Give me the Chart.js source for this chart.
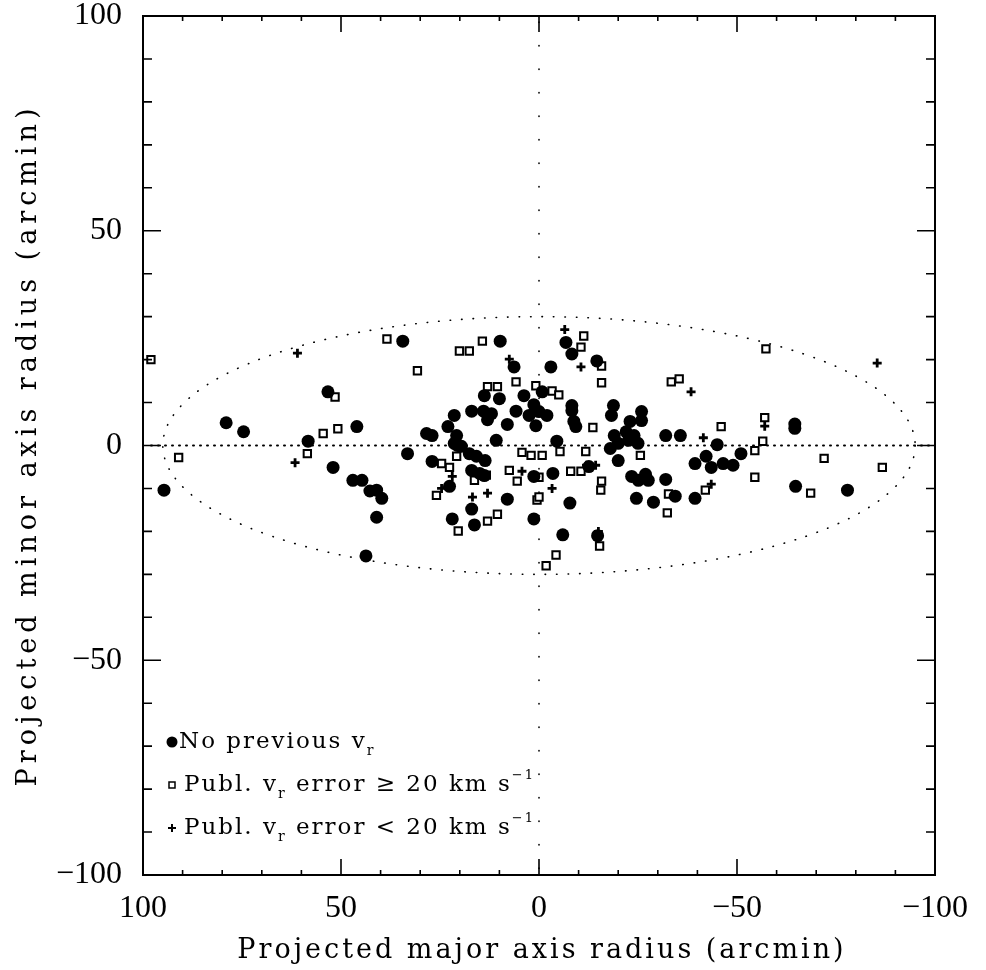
<!DOCTYPE html>
<html>
<head>
<meta charset="utf-8">
<script src="https://cdn.jsdelivr.net/npm/chart.js@4.4.0/dist/chart.umd.min.js"></script>
<style>
  html, body { margin: 0; padding: 0; background: #fff; }
  #wrap { width: 986px; height: 970px; }
</style>
</head>
<body>
<div id="wrap"><canvas id="chart" width="986" height="970"></canvas></div>
<script>
// values, [major axis radius, minor axis radius] in arcmin
const noPreviousPts = [
  [53.3, 12.5], [79, 5.3], [74.6, 3.2], [58.3, 1], [52, -5.1], [94.7, -10.4],
  [34.4, 24.3], [9.8, 24.3], [6.3, 18.3], [13.8, 11.6], [10, 10.9], [3.8, 11.6],
  [17, 8], [14, 8], [12, 7.4], [13, 6], [5.8, 8], [1.3, 9.5], [2.5, 7], [21.4, 7],
  [23, 4.4], [8, 4.9], [46, 4.4], [28.4, 2.8], [27, 2.3], [20.8, 2.3], [10.8, 1.2],
  [20.6, 0], [0.8, 4.6], [-6.8, 24], [-8.3, 21.3], [-3, 18.3], [-14.6, 19.7],
  [-0.8, 12.5], [-8.3, 9.3], [-8.3, 8.1], [0, 7.9], [-2, 7], [-8.8, 5.6], [-9.3, 4.4],
  [-18.8, 9.3], [-18.3, 7], [-25.9, 7.9], [-25.9, 5.8], [-23, 5.6], [-19, 2.3],
  [-22, 3.2], [-24, 2.3], [-20, 0.5], [-25, 0.5], [-32, 2.3], [-35.7, 2.3], [-45, 0.2],
  [-4.5, 1], [-64.6, 5], [-64.6, 4], [33.2, -1.9], [27, -3.7], [21.4, 0.5], [19.6, -0.2],
  [17.6, -1.9], [15.8, -2.5], [13.6, -3.5], [17, -5.8], [15, -6.5], [13.8, -7],
  [22.6, -9.5], [47, -8.1], [44.7, -8.1], [42.7, -10.6], [41, -10.4], [39.7, -12.3],
  [41, -16.7], [8, -12.5], [17, -14.8], [21.9, -17.1], [16.3, -18.5], [1.3, -17.1],
  [43.7, -25.7], [1.3, -7.2], [-18, -0.7], [-22.6, 1.2], [-20, -3.5], [-12.6, -4.9],
  [-3.5, -6.5], [-7.8, -13.4], [-23.4, -7.2], [-26.9, -6.7], [-25.1, -8.1], [-27.6, -8.1],
  [-32, -7.9], [-24.6, -12.3], [-28.9, -13.2], [-34.4, -11.8], [-39.4, -12.3],
  [-39.4, -4.2], [-42.2, -2.5], [-43.5, -5.1], [-46.5, -4.2], [-49, -4.6], [-6, -20.8],
  [-14.8, -21], [-51, -1.9], [-64.8, -9.5], [-77.9, -10.4]
];
const bigErrorPts = [
  [98, 20], [51.5, 11.3], [54.5, 2.8], [50.8, 3.9], [58.5, -1.9], [91, -2.8],
  [38.4, 24.8], [20.1, 22], [17.6, 22], [14.3, 24.3], [30.7, 17.4], [5.8, 14.8],
  [0.8, 13.9], [13, 13.7], [10.5, 13.7], [-11.3, 25.5], [-10.6, 22.9], [-15.8, 18.5],
  [-15.8, 14.6], [-33.4, 14.8], [-35.4, 15.5], [-3.3, 12.7], [-5, 11.8], [-13.6, 4.2],
  [-46, 4.4], [-57.3, 22.5], [-57, 6.5], [-56.5, 1], [24.6, -4.2], [22.6, -5.1],
  [20.8, -2.5], [13.3, -6.9], [16.3, -8.1], [25.9, -11.6], [13, -17.6], [10.5, -16],
  [20.4, -19.9], [7.5, -5.8], [5.5, -8.3], [4.3, -1.6], [2, -2.3], [0.5, -12.7],
  [-0.8, -2.3], [-5.3, -1.4], [-11.8, -1.4], [-25.6, -2.3], [-8, -6], [-10.6, -6],
  [0, -7.4], [0, -12], [-15.8, -8.3], [-15.6, -10.4], [-32.7, -11.3], [-32.4, -15.7],
  [-42, -10.4], [-15.3, -23.4], [-4.3, -25.5], [-1.8, -28], [-54.5, -1.2], [-72, -3],
  [-86.7, -5.1], [-54.5, -7.4], [-68.6, -11.1]
];
const smallErrorPts = [
  [61, 21.5], [61.6, -4], [7.5, 20.1], [-6.5, 27], [-10.6, 18.3], [-38.4, 12.5],
  [-41.5, 1.8], [-85.4, 19.2], [-57, 4.5], [21.9, -7.2], [24.6, -10], [16.8, -12],
  [13, -11.1], [4.3, -6], [-3.3, -10], [-12, -4.6], [-14.3, -4.6], [-43.5, -9], [-15, -20]
];
const axisMin = -100;
const axisMax = 100;
const majorStep = 50;
const minorStep = 10;
// dotted ellipse drawn in the figure (semi-axes in arcmin)
const ellipseA = 95;
const ellipseB = 30;

const xTitle = "Projected major axis radius (arcmin)";
const yTitle = "Projected minor axis radius (arcmin)";

const toXY = pts => pts.map(p => ({ x: p[0], y: p[1] }));
const minus = v => (v < 0 ? "\u2212" + Math.abs(v) : String(v));

// draw a run of text pieces with sub/superscripts
const drawRich = (ctx, parts, x, y) => {
  parts.forEach(p => {
    ctx.font = p.size + "px 'DejaVu Serif'";
    ctx.fillText(p.t, x, y + (p.dy || 0));
    x += ctx.measureText(p.t).width + (p.gap || 0);
  });
};

const figurePlugin = {
  id: "figurePlugin",
  beforeDatasetsDraw(chart) {
    const { ctx, chartArea: a, scales: { x, y } } = chart;
    const cx = x.getPixelForValue(0), cy = y.getPixelForValue(0);
    ctx.save();
    ctx.strokeStyle = "#000";
    ctx.lineCap = "round";

    // y = 0 line
    ctx.lineWidth = 2;
    ctx.setLineDash([1, 6]);
    ctx.beginPath();
    ctx.moveTo(a.left + 8, cy);
    ctx.lineTo(a.right - 4, cy);
    ctx.stroke();

    // x = 0 line, sparse
    ctx.lineWidth = 1.6;
    ctx.setLineDash([0.5, 23]);
    ctx.beginPath();
    ctx.moveTo(cx, a.top + 6);
    ctx.lineTo(cx, a.bottom);
    ctx.stroke();

    // ellipse
    const rx = Math.abs(x.getPixelForValue(ellipseA) - cx);
    const ry = Math.abs(y.getPixelForValue(ellipseB) - cy);
    ctx.lineWidth = 1.6;
    ctx.setLineDash([0.5, 11]);
    ctx.beginPath();
    ctx.ellipse(cx, cy, rx, ry, 0, 0, Math.PI * 2);
    ctx.stroke();
    ctx.restore();
  },
  afterDraw(chart) {
    const { ctx, chartArea: a, scales: { x, y } } = chart;
    ctx.save();
    ctx.strokeStyle = "#000";
    ctx.fillStyle = "#000";

    // frame
    ctx.lineWidth = 2;
    ctx.strokeRect(a.left, a.top, a.right - a.left, a.bottom - a.top);

    // inward ticks
    ctx.lineWidth = 1.6;
    ctx.beginPath();
    for (let v = axisMin + minorStep; v < axisMax; v += minorStep) {
      const major = v % majorStep === 0;
      const px = x.getPixelForValue(v);
      const py = y.getPixelForValue(v);
      const lx = major ? 16 : 5;
      const ly = major ? 18 : 9;
      ctx.moveTo(px, a.bottom); ctx.lineTo(px, a.bottom - lx);
      ctx.moveTo(px, a.top); ctx.lineTo(px, a.top + lx);
      ctx.moveTo(a.left, py); ctx.lineTo(a.left + ly, py);
      ctx.moveTo(a.right, py); ctx.lineTo(a.right - ly, py);
    }
    ctx.stroke();

    // axis titles
    ctx.letterSpacing = "3px";
    ctx.font = "27px 'DejaVu Serif'";
    ctx.textAlign = "center";
    ctx.textBaseline = "alphabetic";
    ctx.fillText(xTitle, 542, 958);
    ctx.save();
    ctx.translate(36, 445);
    ctx.rotate(-Math.PI / 2);
    ctx.letterSpacing = "5px";
    ctx.fillText(yTitle, 0, 0);
    ctx.restore();

    // legend
    ctx.letterSpacing = "2px";
    ctx.textAlign = "left";
    ctx.textBaseline = "middle";
    const rows = [742, 785, 828];
    ctx.beginPath();
    ctx.arc(172, rows[0], 5.5, 0, Math.PI * 2);
    ctx.fill();
    ctx.lineWidth = 1.5;
    ctx.strokeRect(169, rows[1] - 3, 6, 6);
    ctx.lineWidth = 2;
    ctx.beginPath();
    ctx.moveTo(168, rows[2]); ctx.lineTo(176, rows[2]);
    ctx.moveTo(172, rows[2] - 4); ctx.lineTo(172, rows[2] + 4);
    ctx.stroke();

    drawRich(ctx, [
      { t: "No previous v", size: 23 },
      { t: "r", size: 14, dy: 9 }
    ], 179, rows[0]);
    drawRich(ctx, [
      { t: "Publ. v", size: 23 },
      { t: "r", size: 14, dy: 9 },
      { t: " error \u2265 20 km s", size: 23 },
      { t: "\u22121", size: 13, dy: -9 }
    ], 184, rows[1]);
    drawRich(ctx, [
      { t: "Publ. v", size: 23 },
      { t: "r", size: 14, dy: 9 },
      { t: " error < 20 km s", size: 23 },
      { t: "\u22121", size: 13, dy: -9 }
    ], 184, rows[2]);
    ctx.letterSpacing = "0px";
    ctx.restore();
  }
};

const tickFont = { family: "'Liberation Serif'", size: 32 };

new Chart(document.getElementById("chart").getContext("2d"), {
  type: "scatter",
  data: {
    datasets: [
      {
        label: "No previous vr",
        data: toXY(noPreviousPts),
        pointStyle: "circle",
        pointRadius: 6.5,
        backgroundColor: "#000",
        borderColor: "#000",
        borderWidth: 0
      },
      {
        label: "Publ. vr error >= 20 km s-1",
        data: toXY(bigErrorPts),
        pointStyle: "rect",
        pointRadius: 5.2,
        backgroundColor: "#fff",
        borderColor: "#000",
        borderWidth: 2
      },
      {
        label: "Publ. vr error < 20 km s-1",
        data: toXY(smallErrorPts),
        pointStyle: "cross",
        pointRadius: 4.5,
        backgroundColor: "#000",
        borderColor: "#000",
        borderWidth: 2.8
      }
    ]
  },
  options: {
    responsive: false,
    animation: false,
    devicePixelRatio: 1,
    layout: { padding: { left: 0, right: 51, top: 16, bottom: 0 } },
    plugins: {
      legend: { display: false },
      tooltip: { enabled: false }
    },
    scales: {
      x: {
        type: "linear",
        reverse: true,
        min: axisMin,
        max: axisMax,
        grid: { display: false, drawTicks: false },
        border: { display: false },
        ticks: {
          stepSize: majorStep,
          color: "#000",
          font: tickFont,
          padding: 14,
          maxRotation: 0,
          callback: v => minus(v)
        },
        afterFit: s => {
          s.height = 95;
          s.paddingLeft = 0;
          s.paddingRight = 0;
        }
      },
      y: {
        type: "linear",
        min: axisMin,
        max: axisMax,
        grid: { display: false, drawTicks: false },
        border: { display: false },
        ticks: {
          stepSize: majorStep,
          color: "#000",
          font: tickFont,
          padding: 21,
          callback: v => minus(v)
        },
        afterFit: s => {
          s.width = 143;
          s.paddingTop = 0;
          s.paddingBottom = 0;
        }
      }
    }
  },
  plugins: [figurePlugin]
});
</script>
</body>
</html>
